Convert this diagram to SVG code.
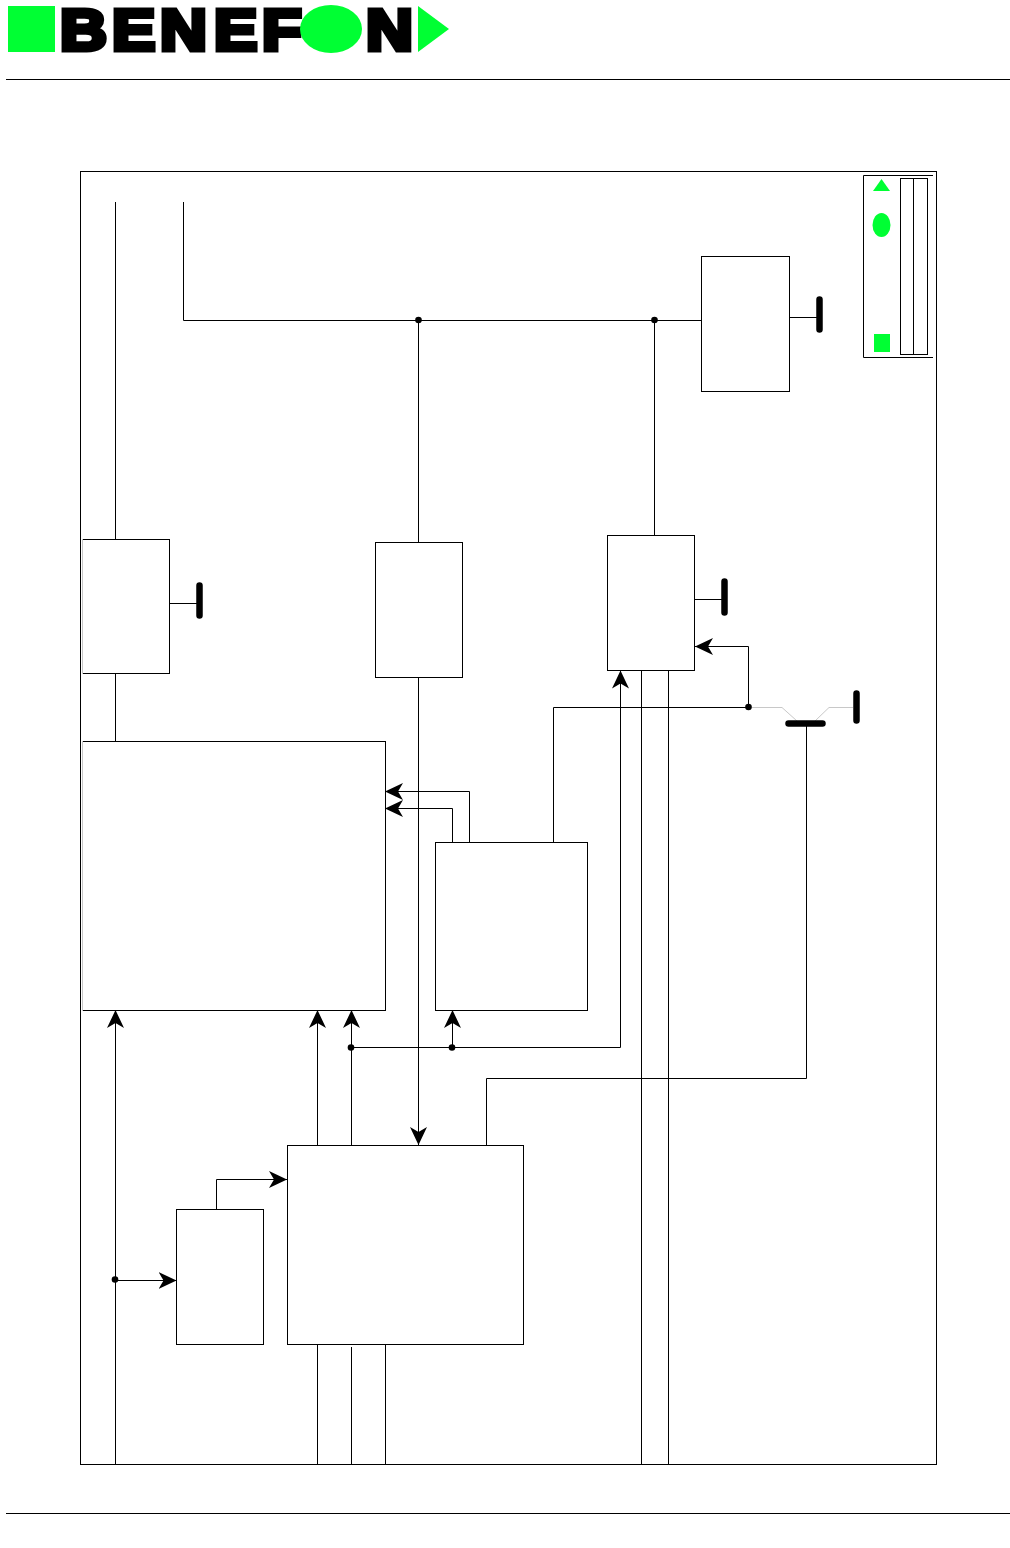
<svg xmlns="http://www.w3.org/2000/svg" width="1010" height="1548" viewBox="0 0 1010 1548">
<style>
.l{fill:none;stroke:#000;stroke-width:1}
.b{fill:#fff;stroke:#000;stroke-width:1}
.g{fill:#00ff33}
.thick{fill:none;stroke:#000;stroke-width:6.500;stroke-linecap:round}
.faint{fill:none;stroke:#c8c8c8;stroke-width:1}
.logo{font-family:"Liberation Sans",Arial,sans-serif;font-weight:bold;font-size:58px;fill:#000;stroke:#000;stroke-width:5;stroke-linejoin:miter}
</style>
<defs>
<marker id="a" markerUnits="userSpaceOnUse" markerWidth="18" markerHeight="18" refX="18" refY="9" orient="auto">
<path d="M18 9L0 0.500L5 9L0 17.500Z" fill="#000"/>
</marker>
</defs>
<rect width="1010" height="1548" fill="#fff"/>
<g id="header">
<rect class="g" x="8" y="6" width="47" height="46"/>
<text class="logo" transform="scale(1.120 1)" x="53.600 100 142.900 191.100 233.900 326.800" y="49.500">BENEFN</text>
<ellipse class="g" cx="331" cy="29" rx="31" ry="24"/>
<path class="g" d="M418 6L449 29L418 52Z"/>
<path class="l" d="M6 79.500H1010M6 1513.500H1010"/>
</g>
<rect id="frame" class="l" x="80.500" y="171.500" width="856" height="1293"/>
<g id="connectors">
<path class="l" d="M115.500 202V539M115.500 673V741M183.500 202V320.500H701M418.500 320.500V542M654.500 320.500V535"/>
<path class="l" d="M418.500 677V1145" marker-end="url(#a)"/>
<path class="l" d="M115.500 1464V1010" marker-end="url(#a)"/>
<path class="l" d="M115.500 1280.500H176.500" marker-end="url(#a)"/>
<path class="l" d="M216.500 1209V1179.500H287" marker-end="url(#a)"/>
<path class="l" d="M317.500 1145V1010" marker-end="url(#a)"/>
<path class="l" d="M351.500 1145V1010" marker-end="url(#a)"/>
<path class="l" d="M351.500 1047.500H620.500V670.500" marker-end="url(#a)"/>
<path class="l" d="M452.500 1047.500V1010" marker-end="url(#a)"/>
<path class="l" d="M469.500 842V791.500H385" marker-end="url(#a)"/>
<path class="l" d="M452.500 842V808.500H385" marker-end="url(#a)"/>
<path class="l" d="M553.500 842V707.500H748.500V646.500H695" marker-end="url(#a)"/>
<path class="l" d="M486.500 1145V1078.500H806.500V723"/>
<path class="l" d="M641.500 670V1464M668.500 670V1464M317.500 1344V1464M351.500 1347V1464M385.500 1344V1464"/>
<path class="l" d="M169 603.500H199M694 599.500H724M789 317.500H819"/>
<path class="faint" d="M751 707.500H782L797 721M815 721L829 707.500H853"/>
<path class="thick" d="M199.500 585.500V615.500M724.500 581.500V612.500M819.500 299.500V329.500M856.500 693.500V720.500M788.500 723.500H822.500"/>
<circle cx="418.500" cy="320" r="3.300"/>
<circle cx="654.500" cy="320" r="3.300"/>
<circle cx="748.500" cy="707" r="3.300"/>
<circle cx="351" cy="1047.500" r="3.300"/>
<circle cx="452" cy="1047.500" r="3.300"/>
<circle cx="115" cy="1279.500" r="3.300"/>
</g>
<rect id="n1" class="b" x="701.500" y="256.500" width="88" height="135"/>
<g id="n2"><rect class="b" x="82.500" y="539.500" width="87" height="134"/><path class="faint" d="M82.500 539V674"/></g>
<rect id="n3" class="b" x="375.500" y="542.500" width="87" height="135"/>
<rect id="n4" class="b" x="607.500" y="535.500" width="87" height="135"/>
<g id="n5"><rect class="b" x="82.500" y="741.500" width="303" height="269"/><path class="faint" d="M82.500 741V1011"/></g>
<rect id="n6" class="b" x="435.500" y="842.500" width="152" height="168"/>
<rect id="n7" class="b" x="287.500" y="1145.500" width="236" height="199"/>
<rect id="n8" class="b" x="176.500" y="1209.500" width="87" height="135"/>
<g id="legend">
<path class="l" d="M933 175.500H863.500V357.500H933"/>
<rect class="l" x="900.500" y="178.500" width="27" height="176"/>
<path class="l" d="M913.500 178V354"/>
<path class="g" d="M881.500 179L890 191H873Z"/>
<ellipse class="g" cx="881.500" cy="225" rx="9" ry="12"/>
<rect class="g" x="874" y="334" width="16" height="18"/>
</g>
</svg>
